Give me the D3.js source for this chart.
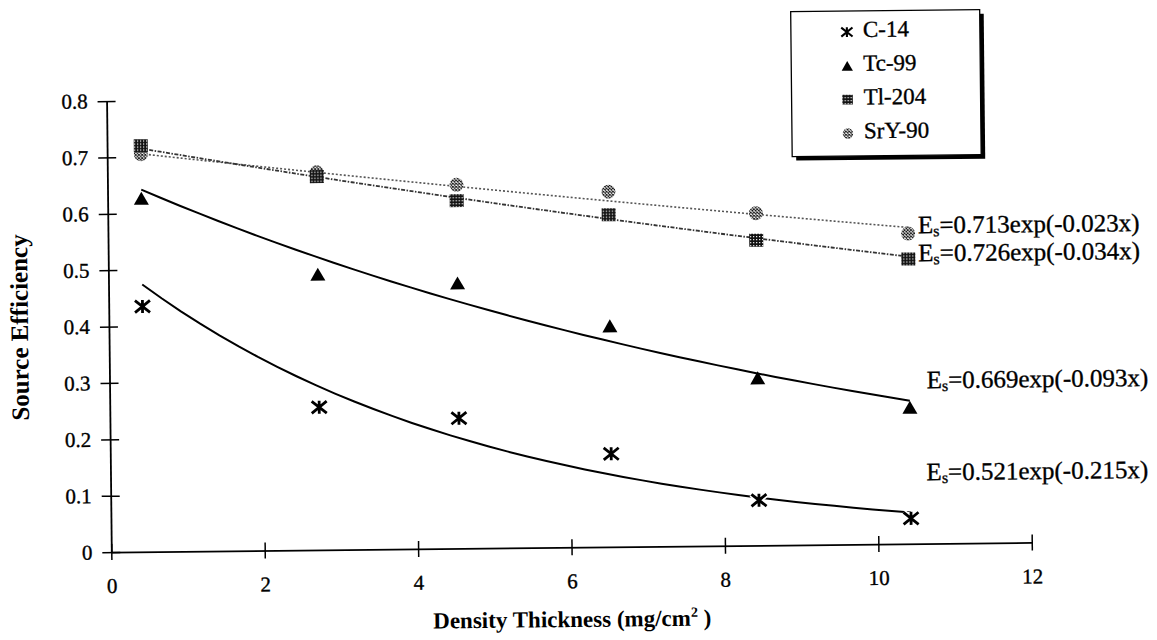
<!DOCTYPE html>
<html>
<head>
<meta charset="utf-8">
<script src="https://cdn.jsdelivr.net/npm/d3@7"></script>
<style>
  html, body { margin: 0; padding: 0; background: #fff; }
  svg { display: block; }
  svg text { font-family: "Liberation Serif", "Times New Roman", serif !important; fill: #000; }
  svg text.ink { stroke: #000; stroke-width: 0.35px; }
</style>
</head>
<body>
<svg id="chart" width="1157" height="640"></svg>
<script>
// Density thickness of each source (mg/cm^2)
const thickness = [0.44, 2.73, 4.55, 6.53, 8.45, 10.43];

// Measured source efficiency per nuclide
const c14   = [0.435, 0.253, 0.231, 0.165, 0.080, 0.045];
const tc99  = [0.627, 0.489, 0.471, 0.392, 0.297, 0.242];
const tl204 = [0.720, 0.662, 0.617, 0.589, 0.541, 0.505];
const sry90 = [0.705, 0.670, 0.645, 0.630, 0.589, 0.550];

// Exponential fits Es = a * exp(-k x)
const fitNames = ["SrY-90", "Tl-204", "Tc-99", "C-14"];
const fitA = [0.713, 0.726, 0.669, 0.521];
const fitK = [0.023, 0.034, 0.093, 0.215];

const legendNames = ["C-14", "Tc-99", "Tl-204", "SrY-90"];
const xTicks = [0, 2, 4, 6, 8, 10, 12];
const yTicks = [0, 0.1, 0.2, 0.3, 0.4, 0.5, 0.6, 0.7, 0.8];

const SERIF = '"Liberation Serif", "Times New Roman", serif';

const svg = d3.select("#chart");
const defs = svg.append("defs");

// checker fill for Tl-204
const pTl = defs.append("pattern").attr("id", "pTl").attr("patternUnits", "userSpaceOnUse")
  .attr("width", 3).attr("height", 3);
pTl.append("rect").attr("width", 3).attr("height", 3).attr("fill", "#111");
pTl.append("rect").attr("x", 1).attr("y", 1).attr("width", 1.2).attr("height", 1.2).attr("fill", "#fff");

// cross-hatch fill for SrY-90
const pSr = defs.append("pattern").attr("id", "pSr").attr("patternUnits", "userSpaceOnUse")
  .attr("width", 3.2).attr("height", 3.2);
pSr.append("rect").attr("width", 3.2).attr("height", 3.2).attr("fill", "#fff");
pSr.append("path").attr("d", "M0,3.2 L3.2,0 M0,0 L3.2,3.2").attr("stroke", "#111").attr("stroke-width", 0.9);

// the whole page sits slightly tilted
const root = svg.append("g").attr("transform", "rotate(-0.6,570,330)");

const x = d3.scaleLinear().domain([0, 12]).range([109, 1029.5]);
const y = d3.scaleLinear().domain([0, 0.8]).range([547.3, 96.2]);

// axes with crossing tick marks
const fmtY = d => d === 0 ? "0" : d3.format(".1f")(d);
const yAxis = root.append("g").attr("transform", `translate(${x(0)},0)`)
  .call(d3.axisLeft(y).tickValues(yTicks).tickFormat(fmtY).tickSize(9).tickSizeOuter(0).tickPadding(10));
yAxis.attr("font-family", SERIF).attr("font-size", 21);
yAxis.selectAll(".tick line").attr("x1", 9).attr("stroke-width", 1.5);
yAxis.select(".domain").attr("stroke-width", 1.8);
yAxis.selectAll(".tick text").classed("ink", true).style("font-family", SERIF).style("font-size", "21px");

const xAxis = root.append("g").attr("transform", `translate(0,${y(0)})`)
  .call(d3.axisBottom(x).tickValues(xTicks).tickFormat(d3.format("d")).tickSize(8).tickSizeOuter(0).tickPadding(18));
xAxis.attr("font-family", SERIF).attr("font-size", 21);
xAxis.selectAll(".tick line").attr("y1", -8).attr("stroke-width", 1.5);
xAxis.select(".domain").attr("stroke-width", 1.8);
xAxis.selectAll(".tick text").classed("ink", true).style("font-family", SERIF).style("font-size", "21px");

// axis titles
root.append("text")
  .attr("transform", `translate(28,${(y(0) + y(0.8)) / 2}) rotate(-90)`)
  .attr("text-anchor", "middle").attr("font-weight", "bold").style("font-size", "25px")
  .style("font-family", SERIF)
  .text("Source Efficiency");

const xt = root.append("text")
  .attr("x", (x(0) + x(12)) / 2).attr("y", 627)
  .attr("text-anchor", "middle").attr("font-weight", "bold").style("font-size", "23px")
  .style("font-family", SERIF);
xt.append("tspan").text("Density Thickness (mg/cm");
xt.append("tspan").style("font-size", "14px").attr("dy", -9).text("2");
xt.append("tspan").attr("dy", 9).text(" )");

// fitted curves
const lineStyles = {
  "SrY-90": { stroke: "#555", width: 1.6, dash: "2,2" },
  "Tl-204": { stroke: "#333", width: 1.8, dash: "4,1.5,1.5,1.5" },
  "Tc-99":  { stroke: "#000", width: 2, dash: null },
  "C-14":   { stroke: "#000", width: 2, dash: null }
};
const x0 = thickness[0], x1 = thickness[thickness.length - 1];
const samples = d3.range(0, 41).map(i => x0 + (x1 - x0) * i / 40);
const line = d3.line().x(d => x(d[0])).y(d => y(d[1]));
fitNames.forEach((name, i) => {
  const pts = samples.map(t => [t, fitA[i] * Math.exp(-fitK[i] * t)]);
  const st = lineStyles[name];
  root.append("path").attr("d", line(pts)).attr("fill", "none")
    .attr("stroke", st.stroke).attr("stroke-width", st.width)
    .attr("stroke-dasharray", st.dash);
});

// marker shapes
function drawMarker(g, name, cx, cy, s) {
  if (name === "C-14") {
    const h = 7.5 * s, hv = 6 * s, v = 6.5 * s;
    const d = `M${cx - h},${cy - hv} L${cx + h},${cy + hv} M${cx - h},${cy + hv} L${cx + h},${cy - hv} M${cx},${cy - v} L${cx},${cy + v}`;
    g.append("path").attr("d", d).attr("stroke", "#fff").attr("stroke-width", 6 * s).attr("fill", "none");
    g.append("path").attr("d", d).attr("stroke", "#000").attr("stroke-width", 2.8 * s).attr("fill", "none");
  } else if (name === "Tc-99") {
    const w = 7.5 * s, hh = 6.5 * s;
    g.append("path").attr("d", `M${cx},${cy - hh} L${cx + w},${cy + hh} L${cx - w},${cy + hh} Z`).attr("fill", "#000");
  } else if (name === "Tl-204") {
    g.append("rect").attr("x", cx - 7 * s).attr("y", cy - 6.5 * s)
      .attr("width", 14 * s).attr("height", 13 * s).attr("fill", "url(#pTl)");
  } else {
    g.append("circle").attr("cx", cx).attr("cy", cy).attr("r", 7 * s).attr("fill", "url(#pSr)");
  }
}

const series = [
  { name: "SrY-90", values: sry90 },
  { name: "Tl-204", values: tl204 },
  { name: "Tc-99",  values: tc99 },
  { name: "C-14",   values: c14 }
];
const markers = root.append("g");
series.forEach(s => {
  s.values.forEach((v, j) => drawMarker(markers, s.name, x(thickness[j]), y(v), 1));
});

// equation labels at the right end of each fit
const eqPos = { "SrY-90": [919, 237], "Tl-204": [919, 265], "Tc-99": [926, 392], "C-14": [925, 484] };
fitNames.forEach((name, i) => {
  const t = root.append("text").attr("class", "ink").attr("x", eqPos[name][0]).attr("y", eqPos[name][1])
    .style("font-size", "25px").style("font-family", SERIF);
  t.append("tspan").text("E");
  t.append("tspan").style("font-size", "16px").attr("dy", 3).text("s");
  t.append("tspan").attr("dy", -3).text(`=${fitA[i].toFixed(3)}exp(-${fitK[i].toFixed(3)}x)`);
});

// legend with drop shadow
const lg = root.append("g");
lg.append("rect").attr("x", 798).attr("y", 18).attr("width", 189).attr("height", 145).attr("fill", "#000");
lg.append("rect").attr("x", 794).attr("y", 14).attr("width", 189).attr("height", 145)
  .attr("fill", "#fff").attr("stroke", "#000").attr("stroke-width", 1.3);
legendNames.forEach((name, i) => {
  const by = 40 + i * 33.8;
  drawMarker(lg, name, 850, by - 5, 0.75);
  lg.append("text").attr("class", "ink").attr("x", 866).attr("y", by).style("font-size", "23px")
    .style("font-family", SERIF).text(name);
});
</script>
</body>
</html>
